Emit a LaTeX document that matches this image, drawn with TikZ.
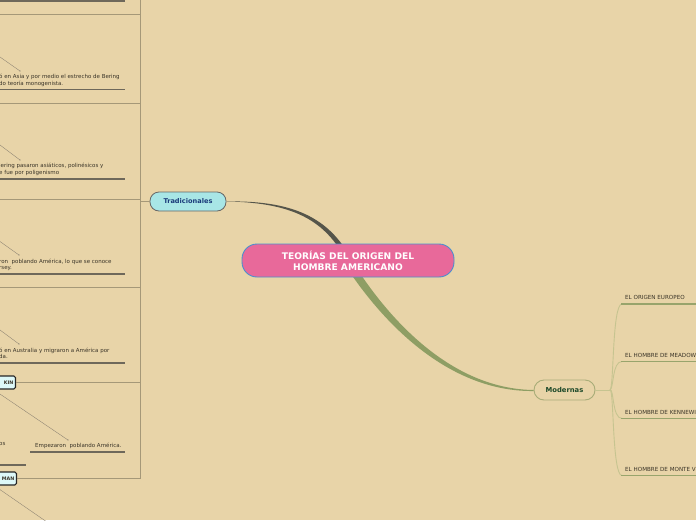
\documentclass[tikz,border=0pt]{standalone}
\usepackage{fontspec}
\setmainfont{DejaVu Sans}
\usepackage{tikz}
\usetikzlibrary{calc}

\definecolor{bgc}{HTML}{E8D4A8}
\definecolor{framec}{HTML}{A59878}
\definecolor{ulinec}{HTML}{6E685A}
\definecolor{pointc}{HTML}{8A8070}
\definecolor{notec}{HTML}{3A3428}
\definecolor{tagfill}{HTML}{DDF8F8}
\definecolor{titlefill}{HTML}{E8699A}
\definecolor{titledraw}{HTML}{4A8FCF}
\definecolor{tradfill}{HTML}{A8E6E6}
\definecolor{tradtext}{HTML}{1A3A7A}
\definecolor{moddraw}{HTML}{A8AC78}
\definecolor{modtext}{HTML}{1E4A2A}
\definecolor{trunkdark}{HTML}{55554A}
\definecolor{trunkolive}{HTML}{8E9E64}
\definecolor{leafc}{HTML}{98A46C}
\definecolor{twigc}{HTML}{C6C490}

\begin{document}
\begin{tikzpicture}[x=1pt,y=-1pt,
  frame/.style={draw=framec,line width=0.9pt},
  uline/.style={draw=ulinec,line width=1.5pt},
  pointer/.style={draw=pointc,line width=0.35pt},
  note/.style={font=\fontsize{5.5}{6.6}\selectfont,text=notec,inner sep=0pt,align=left,anchor=north west},
  tag/.style={draw=black!85,line width=1.1pt,fill=tagfill,rounded corners=1.5pt,font=\fontsize{4.8}{5}\selectfont\bfseries,text=notec,inner xsep=2pt,inner ysep=0pt,minimum height=13,text width=28,align=right,anchor=east},
  leaf/.style={font=\fontsize{5.6}{6}\selectfont,text=notec,inner sep=0pt,anchor=base west},
  leafline/.style={draw=leafc,line width=1.2pt},
  twig/.style={draw=twigc,line width=0.9pt}]

  \fill[bgc] (0,0) rectangle (696,520);
  \path[clip] (0,0) rectangle (696,520);

  % left frame of the Tradicionales boxes
  \draw[uline] (0,1) -- (125,1);
  \draw[frame] (140,0) -- (140,478.5);
  \foreach \y in {14,103,199,287}
    \draw[frame] (0,\y) -- (140,\y);

  \node[tag] (kin) at (16,382.5) {KIN};
  \node[tag] (man) at (17,478.5) {MAN};
  \draw[frame] (kin.east) -- (140,382.5);
  \draw[frame] (man.east) -- (140,478.5);

  % notes
  \node[note] (asia) at (-1,74) {ó en Asia y por medio el estrecho de Bering\\do teoría monogenista.};
  \node[note] (bering) at (-1,163) {lering pasaron asiáticos, polinésicos y\\e fue por poligenismo};
  \node[note] (jersey) at (-1,258.5) {ron\ \ poblando América, lo que se conoce\\rsey.};
  \node[note] (austral) at (-1,347.5) {ó en Australia y migraron a América por\\da.};
  \node[note] (empez) at (35,442.5) {Empezaron\ \ poblando América.};
  \node[note] (os) at (-1,442.5) {os};

  \draw[uline] (0,89.5) -- (125,89.5);
  \draw[uline] (0,179) -- (125,179);
  \draw[uline] (0,274) -- (125,274);
  \draw[uline] (0,363) -- (125,363);
  \draw[uline] (30,452) -- (125,452);
  \draw[uline] (0,465) -- (26,465);

  \coordinate (asiaP) at (0,57);
  \coordinate (beringP) at (0,145);
  \coordinate (jerseyP) at (0,241.5);
  \coordinate (australP) at (0,330);
  \draw[pointer] (asiaP) -- (20,71) node[circle,fill=pointc,inner sep=0.5pt] {};
  \draw[pointer] (beringP) -- (20,160) node[circle,fill=pointc,inner sep=0.5pt] {};
  \draw[pointer] (jerseyP) -- (19,255) node[circle,fill=pointc,inner sep=0.5pt] {};
  \draw[pointer] (australP) -- (19,344) node[circle,fill=pointc,inner sep=0.5pt] {};
  \draw[pointer] (kin.west) -- (68,440) node[circle,fill=pointc,inner sep=0.5pt] {};
  \draw[pointer] (man.west) -- (60,531);

  % main branches
  \node[draw=black!60,line width=0.8pt,fill=tradfill,rounded corners=9pt,minimum width=76,minimum height=19,inner sep=0pt,
        font=\fontsize{6.6}{7}\selectfont\bfseries,text=tradtext] (trad) at (188,201.5) {Tradicionales};
  \node[draw=moddraw,line width=0.9pt,fill=bgc,rounded corners=10pt,minimum width=61,minimum height=20,inner sep=0pt,
        font=\fontsize{6.8}{7}\selectfont\bfseries,text=modtext] (mod) at (564.5,390) {Modernas};
  \draw[frame] (140,201.5) -- (trad.west);

  \fill[trunkdark] (trad.east) .. controls (300,200) and (332,222) .. (353,262)
    -- (348.5,264.5) .. controls (328,224) and (299,202.5) .. (trad.east) -- cycle;
  \fill[trunkolive] (352,261) .. controls (392,325) and (455,389) .. (mod.west)
    -- ($(mod.west)+(0,1)$) .. controls (452,392) and (386,328) .. (345,265) -- cycle;

  \node[draw=titledraw,line width=0.9pt,fill=titlefill,rounded corners=15pt,minimum width=212,minimum height=33,inner sep=0pt,
        align=center,font=\fontsize{9.1}{10.8}\selectfont\bfseries,text=white] (title) at (348,260.5)
        {TEORÍAS DEL ORIGEN DEL\\HOMBRE AMERICANO};

  % leaves of Modernas
  \coordinate (fork) at (610,390);
  \draw[twig] (mod.east) -- (fork);
  \foreach \y/\name/\txt in {304/europeo/EL ORIGEN EUROPEO,361.5/meadow/EL HOMBRE DE MEADOW,
                             418.5/kenne/EL HOMBRE DE KENNEWI,475.5/monte/EL HOMBRE DE MONTE V}{
    \draw[twig] (fork) .. controls (614,388) and (612,\y) .. (622,\y);
    \draw[leafline] (621,\y) -- (696,\y);
    \node[leaf] (\name) at (625,\y-4.5) {\txt};
  }
\end{tikzpicture}
\end{document}
